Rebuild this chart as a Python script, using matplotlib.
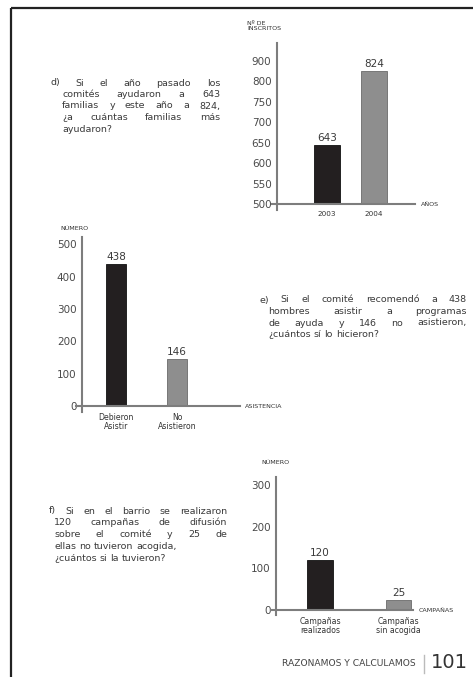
import matplotlib
matplotlib.use("Agg")
import matplotlib.pyplot as plt

# datos de las tres graficas
years = ["2003", "2004"]
inscritos = [643, 824]
ticks_insc = [500, 550, 600, 650, 700, 750, 800, 850]
ticks_insc_lbl = ["500", "550", "600", "650", "700", "750", "800", "900"]  # asi viene en el libro

asist_cats = ["Debieron\nAsistir", "No\nAsistieron"]
asist_vals = [438, 146]
ticks_asist = [0, 100, 200, 300, 400, 500]

camp_cats = ["Campañas\nrealizados", "Campañas\nsin acogida"]
camp_vals = [120, 25]
ticks_camp = [0, 100, 200, 300]

W, H = 473, 677
TXT = "#333333"
AXC = "#7d7d7d"
BAR_COLORS = ["#231f20", "#8e8e8e"]
SMALL = 4.6

plt.rcParams["font.family"] = ["DejaVu Sans"]
fig = plt.figure(figsize=(W / 100, H / 100), dpi=100)

# capa de fondo en pixeles
page = fig.add_axes([0, 0, 1, 1])
page.set_xlim(0, W)
page.set_ylim(H, 0)
page.axis("off")
page.plot([11, W], [8, 8], color="#222222", lw=1.6, solid_capstyle="butt")
page.plot([11, 11], [8, H], color="#222222", lw=1.6, solid_capstyle="butt")


def px_axes(left, right, top, bottom):
    return fig.add_axes([left / W, 1 - bottom / H, (right - left) / W, (bottom - top) / H])


def bar_chart(ax, cats, vals, width, xlim, ylim, ticks, tick_lbls, xlab_size, xpad):
    x = list(range(len(cats)))
    ax.bar(x, vals, width=width, color=BAR_COLORS, edgecolor=["#111111", "#6a6a6a"], lw=0.6, zorder=2)
    for xi, v in zip(x, vals):
        ax.annotate(str(v), (xi, v), xytext=(0, 1.5), textcoords="offset points",
                    ha="center", va="bottom", fontsize=7.5, color="#3a3a3a")
    ax.set_xlim(*xlim)
    ax.set_ylim(*ylim)
    ax.set_yticks(ticks)
    ax.set_yticklabels(tick_lbls, fontsize=7.5, color="#4a4a4a")
    ax.set_xticks(x)
    ax.set_xticklabels(cats, fontsize=xlab_size, color="#333333", linespacing=1.0)
    ax.tick_params(axis="both", length=0)
    ax.tick_params(axis="y", pad=4)
    ax.tick_params(axis="x", pad=xpad)
    for s in ax.spines.values():
        s.set_visible(False)
    ax.patch.set_alpha(0)
    # ejes cruzados como en el dibujo
    ax.plot([-0.035, 1], [0, 0], transform=ax.transAxes, color=AXC, lw=1.5, clip_on=False, zorder=3)
    ax.plot([0, 0], [-0.035, 1], transform=ax.transAxes, color=AXC, lw=1.5, clip_on=False, zorder=3)


# grafica d
ax1 = px_axes(277, 415, 43, 204)
bar_chart(ax1, years, inscritos, 0.55, (-1.06, 1.87), (500, 893), ticks_insc, ticks_insc_lbl, 5.2, 5)
page.text(247, 26, "Nº DE\nINSCRITOS", fontsize=SMALL, color=TXT, va="center", ha="left", linespacing=1.0)
page.text(421, 205, "AÑOS", fontsize=SMALL, color=TXT, va="center", ha="left")

# grafica e
ax2 = px_axes(82, 240, 237, 406)
bar_chart(ax2, asist_cats, asist_vals, 0.33, (-0.56, 2.03), (0, 523), ticks_asist,
          [str(t) for t in ticks_asist], 5.6, 5)
page.text(60, 228, "NÚMERO", fontsize=SMALL, color=TXT, va="center", ha="left")
page.text(245, 407, "ASISTENCIA", fontsize=SMALL, color=TXT, va="center", ha="left")

# grafica f
ax3 = px_axes(276, 413, 477, 610)
bar_chart(ax3, camp_cats, camp_vals, 0.33, (-0.56, 1.185), (0, 320), ticks_camp,
          [str(t) for t in ticks_camp], 5.6, 5)
page.text(261, 463, "NÚMERO", fontsize=SMALL, color=TXT, va="center", ha="left")
page.text(419, 611, "CAMPAÑAS", fontsize=SMALL, color=TXT, va="center", ha="left")

# textos de los problemas, justificados a mano
renderer = fig.canvas.get_renderer()


def put_line(text, x0, x1, y, justify, size=6.8):
    words = text.split(" ")
    objs = [page.text(0, y, w, fontsize=size, color="#3a3a3a", va="center", ha="left") for w in words]
    widths = [o.get_window_extent(renderer).width for o in objs]
    if justify and len(words) > 1:
        gap = (x1 - x0 - sum(widths)) / (len(words) - 1)
    else:
        gap = 3.0
    x = x0
    for o, wd in zip(objs, widths):
        o.set_x(x)
        x += wd + gap


def paragraph(lines, x_first, x_rest, x_right, y0, step, n_just):
    for i, ln in enumerate(lines):
        put_line(ln, x_first if i == 0 else x_rest, x_right, y0 + i * step, i < n_just)


para_d = ["d) Si el año pasado los", "comités ayudaron a 643", "familias y este año a 824,",
          "¿a cuántas familias más", "ayudaron?"]
para_e = ["e) Si el comité recomendó a 438", "hombres asistir a programas",
          "de ayuda y 146 no asistieron,", "¿cuántos sí lo hicieron?"]
para_f = ["f) Si en el barrio se realizaron", "120 campañas de difusión",
          "sobre el comité y 25 de", "ellas no tuvieron acogida,", "¿cuántos si la tuvieron?"]

paragraph(para_d, 50, 62, 220, 83, 11.5, 4)
paragraph(para_e, 259, 268, 467, 300, 11.5, 3)
paragraph(para_f, 49, 54, 227, 511, 11.8, 3)

# pie de pagina
page.text(416, 664, "RAZONAMOS Y CALCULAMOS", fontsize=6.6, color="#444444", ha="right", va="center")
page.plot([424, 424], [655, 673], color="#bbbbbb", lw=1.0)
page.text(431, 663, "101", fontsize=14, color="#333333", ha="left", va="center")

fig.savefig("out.png", dpi=100)
